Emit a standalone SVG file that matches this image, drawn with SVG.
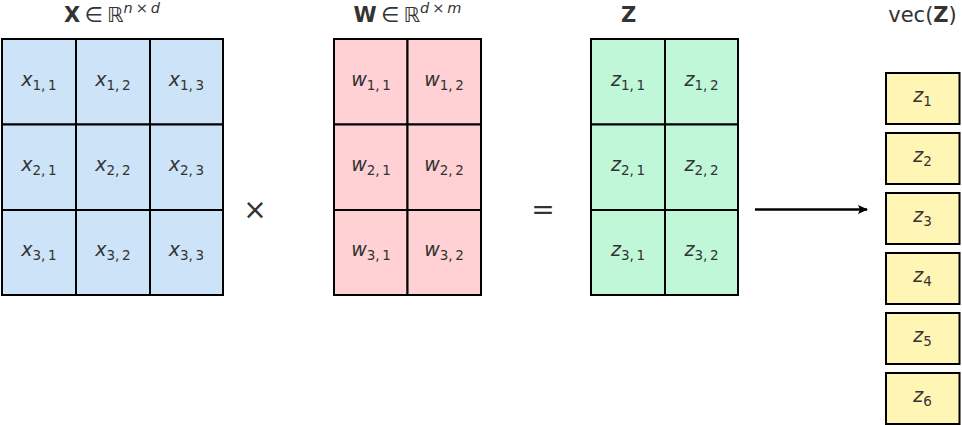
<svg xmlns="http://www.w3.org/2000/svg" width="962" height="425" viewBox="0 0 962 425">
<defs>
<style>
text{font-family:"DejaVu Sans","Liberation Sans",sans-serif;fill:#333;}
.cell{font-size:19px;text-anchor:middle;}
.cell .v{font-style:italic;}
.sub{font-size:13.5px;}
.title{font-size:21px;text-anchor:middle;}
.sup{font-size:14.5px;}
.b{stroke:#000;stroke-width:2;}
.bx{fill:#cce3f8;}
.pk{fill:#ffd1d4;}
.gr{fill:#c1f7d9;}
.yl{fill:#fff5b4;}
.op{font-size:28px;text-anchor:middle;}
</style>
<marker id="ah" viewBox="0 0 10 10" refX="9" refY="5" markerWidth="4" markerHeight="4" orient="auto" markerUnits="strokeWidth">
<path d="M0,0.5 L10,5 L0,9.5 L2,5 Z" fill="#000"/>
</marker>
</defs>
<rect width="962" height="425" fill="#fff"/>

<g id="title-X"><text class="title" x="112" y="22"><tspan font-weight="bold">X</tspan>&#8201;∈&#8201;ℝ<tspan class="sup" dy="-9" font-style="italic">n</tspan><tspan class="sup">&#8201;×&#8201;</tspan><tspan class="sup" font-style="italic">d</tspan></text></g>
<g id="title-W"><text class="title" x="407.5" y="22"><tspan font-weight="bold">W</tspan>&#8201;∈&#8201;ℝ<tspan class="sup" dy="-9" font-style="italic">d</tspan><tspan class="sup">&#8201;×&#8201;</tspan><tspan class="sup" font-style="italic">m</tspan></text></g>
<g id="title-Z"><text class="title" x="628.5" y="22" font-weight="bold">Z</text></g>
<g id="title-vecZ"><text class="title" x="922.5" y="22">vec(<tspan font-weight="bold">Z</tspan>)</text></g>

<g id="matrix-X">
<rect class="b bx" x="2" y="39" width="74" height="85.5"/>
<rect class="b bx" x="76" y="39" width="74" height="85.5"/>
<rect class="b bx" x="150" y="39" width="73" height="85.5"/>
<rect class="b bx" x="2" y="124.5" width="74" height="85.5"/>
<rect class="b bx" x="76" y="124.5" width="74" height="85.5"/>
<rect class="b bx" x="150" y="124.5" width="73" height="85.5"/>
<rect class="b bx" x="2" y="210" width="74" height="85"/>
<rect class="b bx" x="76" y="210" width="74" height="85"/>
<rect class="b bx" x="150" y="210" width="73" height="85"/>
<text class="cell" x="39" y="86"><tspan class="v">x</tspan><tspan class="sub" dy="4">1,&#8201;1</tspan></text>
<text class="cell" x="113" y="86"><tspan class="v">x</tspan><tspan class="sub" dy="4">1,&#8201;2</tspan></text>
<text class="cell" x="186.5" y="86"><tspan class="v">x</tspan><tspan class="sub" dy="4">1,&#8201;3</tspan></text>
<text class="cell" x="39" y="171"><tspan class="v">x</tspan><tspan class="sub" dy="4">2,&#8201;1</tspan></text>
<text class="cell" x="113" y="171"><tspan class="v">x</tspan><tspan class="sub" dy="4">2,&#8201;2</tspan></text>
<text class="cell" x="186.5" y="171"><tspan class="v">x</tspan><tspan class="sub" dy="4">2,&#8201;3</tspan></text>
<text class="cell" x="39" y="256"><tspan class="v">x</tspan><tspan class="sub" dy="4">3,&#8201;1</tspan></text>
<text class="cell" x="113" y="256"><tspan class="v">x</tspan><tspan class="sub" dy="4">3,&#8201;2</tspan></text>
<text class="cell" x="186.5" y="256"><tspan class="v">x</tspan><tspan class="sub" dy="4">3,&#8201;3</tspan></text>
</g>

<g id="op-times"><text class="op" x="255" y="219">×</text></g>

<g id="matrix-W">
<rect class="b pk" x="334" y="39" width="73.5" height="85.5"/>
<rect class="b pk" x="407.5" y="39" width="73.5" height="85.5"/>
<rect class="b pk" x="334" y="124.5" width="73.5" height="85.5"/>
<rect class="b pk" x="407.5" y="124.5" width="73.5" height="85.5"/>
<rect class="b pk" x="334" y="210" width="73.5" height="85"/>
<rect class="b pk" x="407.5" y="210" width="73.5" height="85"/>
<text class="cell" x="371" y="86"><tspan class="v">w</tspan><tspan class="sub" dy="4">1,&#8201;1</tspan></text>
<text class="cell" x="444" y="86"><tspan class="v">w</tspan><tspan class="sub" dy="4">1,&#8201;2</tspan></text>
<text class="cell" x="371" y="171"><tspan class="v">w</tspan><tspan class="sub" dy="4">2,&#8201;1</tspan></text>
<text class="cell" x="444" y="171"><tspan class="v">w</tspan><tspan class="sub" dy="4">2,&#8201;2</tspan></text>
<text class="cell" x="371" y="256"><tspan class="v">w</tspan><tspan class="sub" dy="4">3,&#8201;1</tspan></text>
<text class="cell" x="444" y="256"><tspan class="v">w</tspan><tspan class="sub" dy="4">3,&#8201;2</tspan></text>
</g>

<g id="op-equals"><text class="op" x="543" y="219">=</text></g>

<g id="matrix-Z">
<rect class="b gr" x="591" y="39" width="74" height="85.5"/>
<rect class="b gr" x="665" y="39" width="73" height="85.5"/>
<rect class="b gr" x="591" y="124.5" width="74" height="85.5"/>
<rect class="b gr" x="665" y="124.5" width="73" height="85.5"/>
<rect class="b gr" x="591" y="210" width="74" height="85"/>
<rect class="b gr" x="665" y="210" width="73" height="85"/>
<text class="cell" x="628" y="86"><tspan class="v">z</tspan><tspan class="sub" dy="4">1,&#8201;1</tspan></text>
<text class="cell" x="701.5" y="86"><tspan class="v">z</tspan><tspan class="sub" dy="4">1,&#8201;2</tspan></text>
<text class="cell" x="628" y="171"><tspan class="v">z</tspan><tspan class="sub" dy="4">2,&#8201;1</tspan></text>
<text class="cell" x="701.5" y="171"><tspan class="v">z</tspan><tspan class="sub" dy="4">2,&#8201;2</tspan></text>
<text class="cell" x="628" y="256"><tspan class="v">z</tspan><tspan class="sub" dy="4">3,&#8201;1</tspan></text>
<text class="cell" x="701.5" y="256"><tspan class="v">z</tspan><tspan class="sub" dy="4">3,&#8201;2</tspan></text>
</g>

<g id="connectors">
<line x1="755" y1="209.5" x2="867" y2="209.5" stroke="#000" stroke-width="2.5" marker-end="url(#ah)"/>
</g>

<g id="vec-z1"><rect class="b yl" x="886" y="73" width="73.5" height="51"/><text class="cell" x="922.5" y="102"><tspan class="v">z</tspan><tspan class="sub" dy="4">1</tspan></text></g>
<g id="vec-z2"><rect class="b yl" x="886" y="133" width="73.5" height="51"/><text class="cell" x="922.5" y="162"><tspan class="v">z</tspan><tspan class="sub" dy="4">2</tspan></text></g>
<g id="vec-z3"><rect class="b yl" x="886" y="193" width="73.5" height="51"/><text class="cell" x="922.5" y="222"><tspan class="v">z</tspan><tspan class="sub" dy="4">3</tspan></text></g>
<g id="vec-z4"><rect class="b yl" x="886" y="253" width="73.5" height="51"/><text class="cell" x="922.5" y="282"><tspan class="v">z</tspan><tspan class="sub" dy="4">4</tspan></text></g>
<g id="vec-z5"><rect class="b yl" x="886" y="313" width="73.5" height="51"/><text class="cell" x="922.5" y="342"><tspan class="v">z</tspan><tspan class="sub" dy="4">5</tspan></text></g>
<g id="vec-z6"><rect class="b yl" x="886" y="373" width="73.5" height="51"/><text class="cell" x="922.5" y="402"><tspan class="v">z</tspan><tspan class="sub" dy="4">6</tspan></text></g>
</svg>
